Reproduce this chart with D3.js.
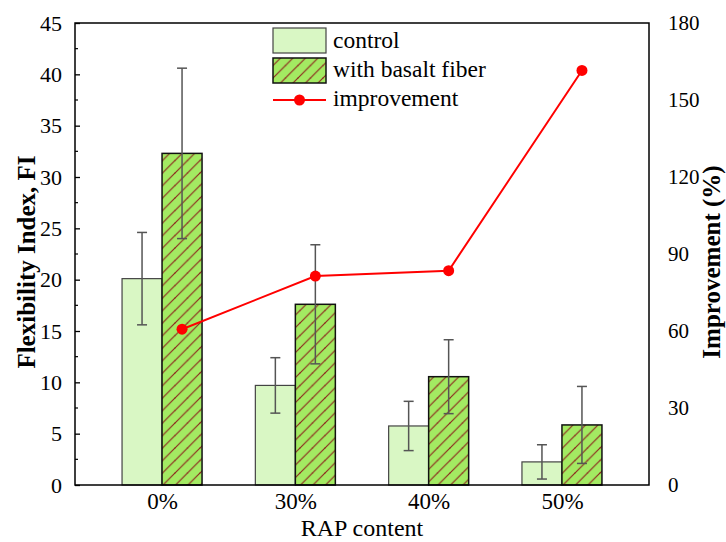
<!DOCTYPE html>
<html>
<head>
<meta charset="utf-8">
<script src="https://cdn.jsdelivr.net/npm/d3@7"></script>
<style>
  body { margin: 0; background: #fff; }
</style>
</head>
<body>
<script>
// values
const categories = ["0%", "30%", "40%", "50%"];
const control = [20.1, 9.7, 5.75, 2.25];
const controlErr = [4.5, 2.7, 2.4, 1.67];
const fiber = [32.3, 17.6, 10.55, 5.85];
const fiberErr = [8.3, 5.8, 3.6, 3.75];
const improvement = [60.7, 81.4, 83.5, 161.5];
const leftTicks = [0, 5, 10, 15, 20, 25, 30, 35, 40, 45];
const rightTicks = [0, 30, 60, 90, 120, 150, 180];

const FONT = "'Liberation Serif', 'Times New Roman', Times, serif";

const W = 726, H = 542;
const margin = {top: 23, right: 77, bottom: 57, left: 75};
const width = W - margin.left - margin.right;
const height = H - margin.top - margin.bottom;

const svg = d3.select("body").append("svg")
  .attr("width", W)
  .attr("height", H)
  .style("font-family", FONT);

const defs = svg.append("defs");
const pat = defs.append("pattern")
  .attr("id", "hatch")
  .attr("patternUnits", "userSpaceOnUse")
  .attr("width", 12.5)
  .attr("height", 12.5);
pat.append("rect")
  .attr("width", 12.5).attr("height", 12.5)
  .attr("fill", "#a3ea62");
pat.append("path")
  .attr("d", "M-3,3.125 L3.125,-3 M0,12.5 L12.5,0 M9.375,15.5 L15.5,9.375")
  .attr("stroke", "#8b1f1a")
  .attr("stroke-width", 1.1);

const g = svg.append("g")
  .attr("transform", `translate(${margin.left}, ${margin.top})`);

const xScale = d3.scalePoint()
  .domain(categories)
  .range([0, width])
  .padding(0.653);

const yScale = d3.scaleLinear()
  .domain([0, 45])
  .range([height, 0]);

const y2Scale = d3.scaleLinear()
  .domain([0, 180])
  .range([height, 0]);

const barW = 40;

// bars
g.selectAll(".bar-control")
  .data(control)
  .enter().append("rect")
  .attr("class", "bar-control")
  .attr("x", (d, i) => xScale(categories[i]) - barW)
  .attr("y", d => yScale(d))
  .attr("width", barW)
  .attr("height", d => height - yScale(d))
  .attr("fill", "#d9f7c4")
  .attr("stroke", "#444")
  .attr("stroke-width", 1.2);

g.selectAll(".bar-fiber")
  .data(fiber)
  .enter().append("rect")
  .attr("class", "bar-fiber")
  .attr("x", (d, i) => xScale(categories[i]))
  .attr("y", d => yScale(d))
  .attr("width", barW)
  .attr("height", d => height - yScale(d))
  .attr("fill", "url(#hatch)")
  .attr("stroke", "#111")
  .attr("stroke-width", 1.5);

// error bars
const drawErr = (vals, errs, offset, cls) => {
  const eg = g.selectAll("." + cls)
    .data(vals)
    .enter().append("g")
    .attr("class", cls)
    .attr("stroke", "#555")
    .attr("stroke-width", 1.5);
  eg.append("line")
    .attr("x1", (d, i) => xScale(categories[i]) + offset)
    .attr("x2", (d, i) => xScale(categories[i]) + offset)
    .attr("y1", (d, i) => yScale(d - errs[i]))
    .attr("y2", (d, i) => yScale(d + errs[i]));
  eg.append("line")
    .attr("x1", (d, i) => xScale(categories[i]) + offset - 5)
    .attr("x2", (d, i) => xScale(categories[i]) + offset + 5)
    .attr("y1", (d, i) => yScale(d + errs[i]))
    .attr("y2", (d, i) => yScale(d + errs[i]));
  eg.append("line")
    .attr("x1", (d, i) => xScale(categories[i]) + offset - 5)
    .attr("x2", (d, i) => xScale(categories[i]) + offset + 5)
    .attr("y1", (d, i) => yScale(d - errs[i]))
    .attr("y2", (d, i) => yScale(d - errs[i]));
};
drawErr(control, controlErr, -barW / 2, "err-control");
drawErr(fiber, fiberErr, barW / 2, "err-fiber");

// improvement line
const impLine = d3.line()
  .x((d, i) => xScale(categories[i]) + barW / 2)
  .y(d => y2Scale(d));

g.append("path")
  .datum(improvement)
  .attr("fill", "none")
  .attr("stroke", "#ff0000")
  .attr("stroke-width", 2)
  .attr("d", impLine);

g.selectAll(".dot")
  .data(improvement)
  .enter().append("circle")
  .attr("class", "dot")
  .attr("cx", (d, i) => xScale(categories[i]) + barW / 2)
  .attr("cy", d => y2Scale(d))
  .attr("r", 5.5)
  .attr("fill", "#ff0000");

// frame
g.append("rect")
  .attr("width", width)
  .attr("height", height)
  .attr("fill", "none")
  .attr("stroke", "#000")
  .attr("stroke-width", 1.5);

// left axis
const yAxis = d3.axisLeft(yScale)
  .tickValues(leftTicks)
  .tickSizeInner(-5)
  .tickSizeOuter(0)
  .tickPadding(13);
const ya = g.append("g").attr("class", "axis y").call(yAxis)
  .attr("font-family", null);
ya.select(".domain").remove();
ya.selectAll("text").attr("font-size", 22).attr("fill", "#000")
  .style("font-family", FONT);
ya.selectAll("line").attr("stroke-width", 1.3);

const minor = d3.range(2.5, 45, 5);
g.selectAll(".minor")
  .data(minor)
  .enter().append("line")
  .attr("x1", 0).attr("x2", 3)
  .attr("y1", d => yScale(d)).attr("y2", d => yScale(d))
  .attr("stroke", "#000")
  .attr("stroke-width", 1.2);

// right axis
const y2Axis = d3.axisRight(y2Scale)
  .tickValues(rightTicks)
  .tickSize(0)
  .tickPadding(19);
const y2a = g.append("g").attr("class", "axis y2")
  .attr("transform", `translate(${width}, 0)`)
  .call(y2Axis)
  .attr("font-family", null);
y2a.select(".domain").remove();
y2a.selectAll("text").attr("font-size", 21).attr("fill", "#000")
  .style("font-family", FONT);

// x axis
const xAxis = d3.axisBottom(xScale).tickSize(0).tickPadding(8);
const xa = g.append("g").attr("class", "axis x")
  .attr("transform", `translate(0, ${height})`)
  .call(xAxis)
  .attr("font-family", null);
xa.select(".domain").remove();
xa.selectAll("text").attr("font-size", 23).attr("fill", "#000")
  .style("font-family", FONT);

// axis titles
svg.append("text")
  .attr("transform", `translate(35, 262) rotate(-90)`)
  .attr("text-anchor", "middle")
  .attr("font-size", 25)
  .attr("font-weight", "bold")
  .style("font-family", FONT)
  .text("Flexibility Index, FI");

svg.append("text")
  .attr("transform", `translate(720, 262) rotate(-90)`)
  .attr("text-anchor", "middle")
  .attr("font-size", 25)
  .attr("font-weight", "bold")
  .style("font-family", FONT)
  .text("Improvement (%)");

svg.append("text")
  .attr("x", margin.left + width / 2)
  .attr("y", 536)
  .attr("text-anchor", "middle")
  .attr("font-size", 24)
  .style("font-family", FONT)
  .text("RAP content");

// legend
const lg = svg.append("g").attr("transform", "translate(273, 28)");
lg.append("rect")
  .attr("width", 53).attr("height", 25)
  .attr("fill", "#d9f7c4").attr("stroke", "#444").attr("stroke-width", 1.2);
lg.append("rect")
  .attr("y", 30)
  .attr("width", 53).attr("height", 25)
  .attr("fill", "url(#hatch)").attr("stroke", "#111").attr("stroke-width", 1.5);
lg.append("line")
  .attr("x1", 0).attr("x2", 53).attr("y1", 72).attr("y2", 72)
  .attr("stroke", "#ff0000").attr("stroke-width", 2);
lg.append("circle")
  .attr("cx", 26.5).attr("cy", 72).attr("r", 5.5).attr("fill", "#ff0000");
const legendLabels = ["control", "with basalt fiber", "improvement"];
lg.selectAll(".ltext")
  .data(legendLabels)
  .enter().append("text")
  .attr("class", "ltext")
  .attr("x", 60)
  .attr("y", (d, i) => 20 + i * 29)
  .attr("font-size", 23.5)
  .style("font-family", FONT)
  .text(d => d);
</script>
</body>
</html>
